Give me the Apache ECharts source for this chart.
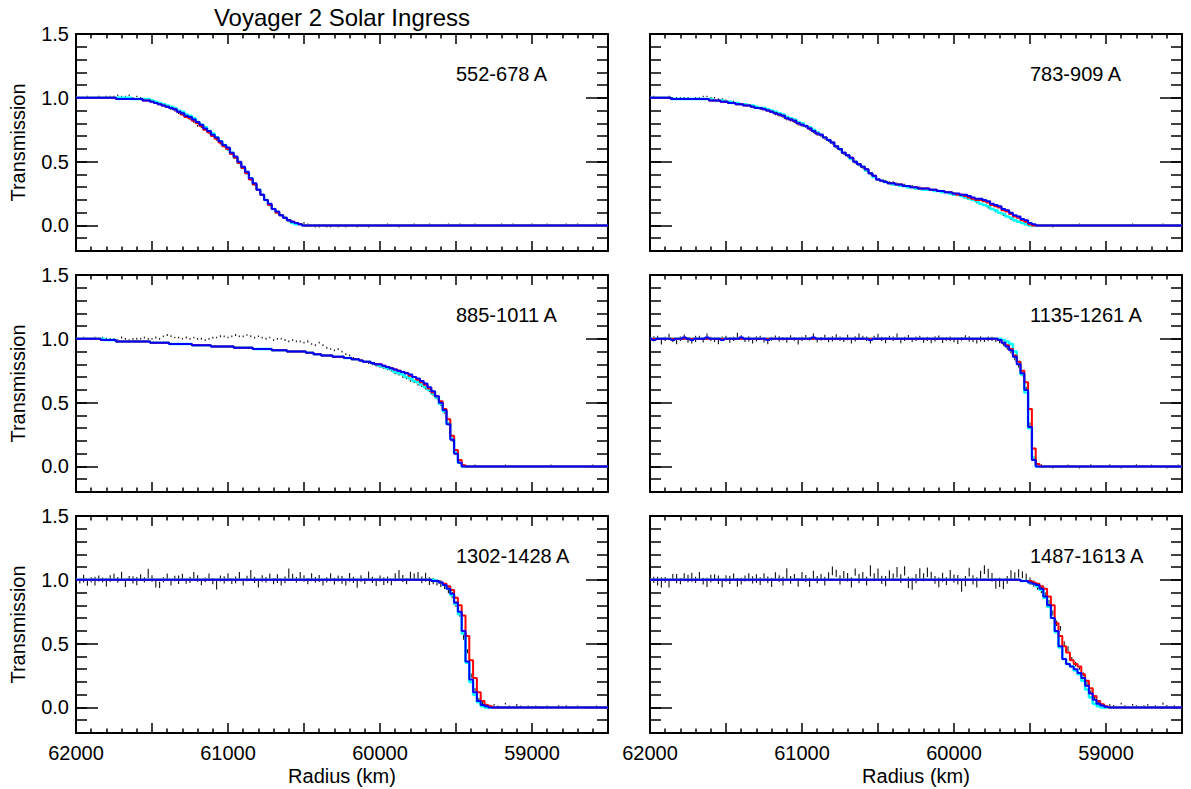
<!DOCTYPE html>
<html>
<head>
<meta charset="utf-8">
<title>Voyager 2 Solar Ingress</title>
<script src="https://cdn.jsdelivr.net/npm/echarts@6/dist/echarts.min.js"></script>
<style>
  html, body { margin: 0; padding: 0; background: #ffffff; }
  #chart { width: 1191px; height: 789px; }
</style>
</head>
<body>
<div id="chart"></div>
<script>
// Radius sample grid (km), shared by the observations and the three model curves.
const radiusKm = [
62000,61975,61950,61925,61900,61875,61850,61825,61800,61775,
61750,61725,61700,61675,61650,61625,61600,61575,61550,61525,
61500,61475,61450,61425,61400,61375,61350,61325,61300,61275,
61250,61225,61200,61175,61150,61125,61100,61075,61050,61025,
61000,60975,60950,60925,60900,60875,60850,60825,60800,60775,
60750,60725,60700,60675,60650,60625,60600,60575,60550,60525,
60500,60475,60450,60425,60400,60375,60350,60325,60300,60275,
60250,60225,60200,60175,60150,60125,60100,60075,60050,60025,
60000,59975,59950,59925,59900,59875,59850,59825,59800,59775,
59750,59725,59700,59675,59650,59625,59600,59575,59550,59525,
59500,59475,59450,59425,59400,59375,59350,59325,59300,59275,
59250,59225,59200,59175,59150,59125,59100,59075,59050,59025,
59000,58975,58950,58925,58900,58875,58850,58825,58800,58775,
58750,58725,58700,58675,58650,58625,58600,58575,58550,58525,
58500];

const bandLabels = ['552-678 A', '783-909 A', '885-1011 A', '1135-1261 A', '1302-1428 A', '1487-1613 A'];
const yMajorTicks = [0, 0.5, 1.0, 1.5];

// ---------- 552-678 A ----------
const obs552 = [
1,1,1,1.01,1,1,1.01,1,1.01,1.01,
1.01,1.02,1.01,1.01,1.02,1,1.01,1,.99,.98,
.97,.96,.95,.94,.93,.91,.90,.88,.87,.85,
.83,.81,.78,.77,.75,.72,.70,.67,.64,.62,
.59,.56,.53,.49,.45,.41,.36,.32,.28,.24,
.20,.16,.13,.10,.08,.06,.04,.03,.02,.01,
.02,.01,0,-.01,-.01,0,-.01,-.01,0,-.01,
0,-.01,0,0,-.01,0,0,-.01,0,0,
0,0,.01,0,0,-.01,0,0,0,.01,
0,0,0,.01,0,0,0,0,.01,0,
0,.01,0,0,0,.01,0,0,0,0,
0,0,.01,0,0,.01,0,0,0,0,
.01,0,0,0,.01,0,0,0,0,.01,
0,0,.01,0,0,0,0,.01,0,0,
0];
const sig552 = [
.005,.005,.006,.005,.005,.006,.005,.006,.005,.006,
.006,.007,.005,.006,.006,.005,.006,.005,.006,.005,
.005,.006,.005,.005,.006,.005,.006,.005,.005,.006,
.005,.005,.006,.005,.005,.006,.005,.005,.005,.006,
.005,.005,.005,.006,.005,.005,.005,.005,.004,.005,
.004,.004,.005,.004,.004,.004,.003,.004,.003,.003,
.003,.004,.003,.003,.004,.003,.003,.004,.003,.003,
.003,.004,.003,.003,.003,.004,.003,.003,.003,.004,
.003,.003,.004,.003,.003,.003,.004,.003,.003,.004,
.003,.003,.003,.004,.003,.003,.004,.003,.003,.003,
.004,.003,.003,.003,.004,.003,.003,.003,.004,.003,
.003,.004,.003,.003,.003,.004,.003,.003,.004,.003,
.003,.003,.004,.003,.003,.004,.003,.003,.003,.004,
.003,.003,.004,.003,.003,.003,.004,.003,.003,.004,
.003];
const cyan552 = [
1,1,1,1,1,1,1,1,1,1,
1,1,1,1,1,.99,.99,.99,.99,.99,
.98,.97,.96,.95,.94,.93,.92,.90,.89,.87,
.86,.84,.81,.79,.77,.74,.72,.69,.66,.63,
.60,.57,.53,.49,.45,.41,.37,.32,.28,.24,
.20,.16,.13,.10,.08,.06,.04,.02,.01,.01,
0,0,0,0,0,0,0,0,0,0,
0,0,0,0,0,0,0,0,0,0,
0,0,0,0,0,0,0,0,0,0,
0,0,0,0,0,0,0,0,0,0,
0,0,0,0,0,0,0,0,0,0,
0,0,0,0,0,0,0,0,0,0,
0,0,0,0,0,0,0,0,0,0,
0,0,0,0,0,0,0,0,0,0,
0];
const red552 = [
1,1,1,1,1,1,1,1,1,1,
1,.99,.99,.99,.99,.99,.99,.99,.98,.98,
.97,.96,.95,.94,.93,.92,.91,.89,.87,.85,
.84,.82,.80,.78,.75,.73,.70,.68,.65,.62,
.60,.56,.53,.49,.45,.41,.36,.32,.28,.24,
.20,.16,.13,.10,.08,.06,.04,.03,.02,.01,
0,0,0,0,0,0,0,0,0,0,
0,0,0,0,0,0,0,0,0,0,
0,0,0,0,0,0,0,0,0,0,
0,0,0,0,0,0,0,0,0,0,
0,0,0,0,0,0,0,0,0,0,
0,0,0,0,0,0,0,0,0,0,
0,0,0,0,0,0,0,0,0,0,
0,0,0,0,0,0,0,0,0,0,
0];
const blue552 = [
1,1,1,1,1,1,1,1,1,1,
1,.99,.99,.99,.99,.99,.99,.99,.98,.98,
.97,.96,.95,.94,.93,.92,.91,.89,.88,.86,
.85,.83,.81,.79,.76,.74,.71,.69,.66,.63,
.61,.57,.54,.50,.46,.42,.37,.33,.28,.24,
.20,.17,.13,.11,.08,.06,.04,.03,.02,.01,
0,0,0,0,0,0,0,0,0,0,
0,0,0,0,0,0,0,0,0,0,
0,0,0,0,0,0,0,0,0,0,
0,0,0,0,0,0,0,0,0,0,
0,0,0,0,0,0,0,0,0,0,
0,0,0,0,0,0,0,0,0,0,
0,0,0,0,0,0,0,0,0,0,
0,0,0,0,0,0,0,0,0,0,
0];

// ---------- 783-909 A ----------
const obs783 = [
1,1.01,1,1,1,1.01,1,1,1,1,
1,.99,1,1,1.01,1.01,1,1,.99,.99,
.98,.97,.97,.96,.95,.95,.94,.93,.92,.91,
.91,.90,.89,.87,.86,.85,.83,.82,.81,.79,
.78,.77,.75,.73,.71,.70,.68,.66,.64,.61,
.59,.56,.54,.52,.49,.47,.45,.43,.40,.38,
.36,.35,.35,.34,.34,.33,.32,.32,.31,.31,
.30,.30,.29,.29,.28,.28,.27,.27,.26,.25,
.24,.24,.23,.22,.21,.20,.18,.17,.16,.14,
.13,.11,.10,.08,.07,.05,.04,.03,.02,.01,
0,0,0,0,0,0,-.01,0,0,0,
0,0,0,.01,0,0,0,0,0,0,
0,0,0,0,0,0,0,.01,0,0,
0,0,0,0,0,.01,0,0,0,0,
0];
const sig783 = [
.005,.006,.005,.005,.006,.005,.006,.005,.005,.006,
.005,.006,.005,.006,.005,.005,.006,.005,.006,.005,
.006,.005,.005,.006,.005,.006,.005,.005,.006,.005,
.005,.006,.005,.005,.006,.005,.005,.006,.005,.005,
.006,.005,.005,.005,.006,.005,.005,.005,.006,.005,
.005,.005,.006,.005,.005,.005,.006,.005,.005,.005,
.005,.005,.004,.005,.005,.004,.005,.005,.004,.005,
.004,.005,.004,.004,.005,.004,.004,.005,.004,.004,
.004,.005,.004,.004,.004,.005,.004,.004,.004,.004,
.004,.004,.004,.003,.004,.003,.003,.004,.003,.003,
.003,.003,.004,.003,.003,.003,.004,.003,.003,.003,
.004,.003,.003,.003,.004,.003,.003,.003,.003,.004,
.003,.003,.004,.003,.003,.003,.004,.003,.003,.003,
.003,.004,.003,.003,.003,.004,.003,.003,.004,.003,
.003];
const cyan783 = [
1,1,1,1,1,1,.99,.99,.99,.99,
.99,.99,.99,.99,.99,.99,.99,.98,.98,.98,
.97,.97,.96,.96,.95,.95,.94,.94,.93,.92,
.92,.91,.90,.89,.88,.87,.85,.84,.83,.81,
.80,.78,.77,.75,.73,.71,.69,.67,.65,.62,
.60,.57,.55,.52,.50,.48,.46,.43,.41,.38,
.36,.35,.34,.33,.32,.32,.31,.31,.30,.30,
.29,.29,.28,.28,.28,.27,.27,.26,.26,.25,
.24,.24,.23,.22,.21,.20,.19,.17,.16,.15,
.13,.12,.10,.09,.07,.06,.04,.03,.02,.01,
0,0,0,0,0,0,0,0,0,0,
0,0,0,0,0,0,0,0,0,0,
0,0,0,0,0,0,0,0,0,0,
0,0,0,0,0,0,0,0,0,0,
0];
const red783 = [
1,1,1,1,1,1,.99,.99,.99,.99,
.99,.99,.99,.99,.99,.99,.98,.98,.98,.97,
.97,.96,.96,.95,.95,.94,.94,.93,.92,.92,
.91,.90,.89,.88,.87,.86,.84,.83,.82,.80,
.79,.78,.76,.74,.72,.71,.69,.67,.65,.62,
.60,.57,.55,.53,.50,.48,.46,.44,.41,.39,
.36,.35,.34,.33,.33,.32,.32,.31,.31,.30,
.30,.29,.29,.29,.28,.28,.27,.27,.26,.26,
.25,.24,.24,.23,.22,.21,.20,.20,.19,.18,
.16,.15,.14,.12,.11,.09,.07,.06,.04,.03,
.01,0,0,0,0,0,0,0,0,0,
0,0,0,0,0,0,0,0,0,0,
0,0,0,0,0,0,0,0,0,0,
0,0,0,0,0,0,0,0,0,0,
0];
const blue783 = [
1,1,1,1,1,1,.99,.99,.99,.99,
.99,.99,.99,.99,.99,.99,.98,.98,.98,.97,
.97,.96,.96,.95,.95,.94,.94,.93,.92,.92,
.91,.90,.89,.88,.87,.86,.84,.83,.82,.80,
.79,.78,.76,.74,.72,.71,.69,.67,.65,.62,
.60,.57,.55,.53,.50,.48,.46,.44,.41,.39,
.36,.35,.34,.33,.33,.32,.32,.31,.31,.30,
.30,.29,.29,.29,.28,.28,.27,.27,.26,.26,
.25,.25,.24,.24,.23,.22,.21,.21,.20,.19,
.17,.16,.15,.13,.12,.10,.08,.07,.05,.04,
.02,.01,0,0,0,0,0,0,0,0,
0,0,0,0,0,0,0,0,0,0,
0,0,0,0,0,0,0,0,0,0,
0,0,0,0,0,0,0,0,0,0,
0];

// ---------- 885-1011 A ----------
const obs885 = [
1,1,1.01,1,1,1.01,1,1.01,1,1,
1,.99,1.01,1,.99,1,1,1,1.01,1,
1,1.01,1,1.02,1.03,1.02,1.01,1.01,1,1.01,
1,1.01,1,1,.99,1,1.01,1.01,1.02,1.02,
1.01,1.02,1.03,1.02,1.02,1.03,1.02,1.01,1.02,1.01,
1,1.01,.99,1,1,.99,.98,.99,.98,.98,
.97,.98,.96,.95,.97,.95,.93,.92,.91,.92,
.90,.88,.87,.85,.84,.83,.82,.81,.80,.79,
.78,.77,.76,.75,.73,.72,.70,.69,.67,.66,
.64,.63,.61,.59,.56,.53,.48,.42,.33,.20,
.10,.03,.01,0,0,.01,0,0,0,0,
0,0,0,.01,0,0,0,0,0,0,
0,0,0,0,0,.01,0,0,0,0,
0,0,0,0,0,0,.01,0,0,0,
0];
const sig885 = [
.006,.007,.006,.008,.006,.007,.006,.007,.008,.006,
.007,.006,.008,.007,.006,.007,.008,.006,.007,.007,
.006,.008,.007,.006,.007,.008,.006,.007,.006,.008,
.007,.006,.007,.008,.006,.007,.007,.006,.008,.007,
.006,.007,.008,.006,.007,.006,.008,.007,.006,.007,
.008,.006,.007,.007,.006,.008,.007,.006,.007,.006,
.007,.008,.006,.007,.006,.007,.008,.006,.007,.007,
.006,.007,.006,.008,.007,.006,.007,.006,.007,.006,
.007,.006,.007,.006,.008,.007,.006,.007,.006,.007,
.006,.007,.006,.007,.006,.006,.007,.006,.006,.005,
.005,.004,.004,.003,.004,.003,.003,.004,.003,.003,
.004,.003,.003,.004,.003,.003,.003,.004,.003,.003,
.003,.004,.003,.003,.003,.004,.003,.003,.004,.003,
.003,.003,.004,.003,.003,.003,.004,.003,.003,.004,
.003];
const cyan885 = [
1,1,1,1,1,1,1,1,.99,.99,
.99,.98,.98,.98,.98,.98,.98,.98,.98,.98,
.97,.97,.97,.97,.97,.96,.96,.96,.96,.96,
.96,.95,.95,.95,.95,.95,.94,.94,.94,.94,
.94,.94,.93,.93,.93,.93,.93,.92,.92,.92,
.92,.92,.91,.91,.91,.91,.90,.90,.90,.90,
.90,.89,.89,.88,.88,.87,.87,.87,.86,.86,
.86,.85,.85,.84,.84,.83,.82,.82,.81,.80,
.79,.78,.77,.76,.74,.73,.72,.70,.69,.67,
.66,.64,.62,.60,.57,.54,.49,.43,.34,.22,
.11,.03,0,0,0,0,0,0,0,0,
0,0,0,0,0,0,0,0,0,0,
0,0,0,0,0,0,0,0,0,0,
0,0,0,0,0,0,0,0,0,0,
0];
const red885 = [
1,1,1,1,1,1,1,.99,.99,.99,
.99,.98,.98,.98,.98,.98,.98,.98,.98,.98,
.97,.97,.97,.97,.97,.96,.96,.96,.96,.96,
.96,.95,.95,.95,.95,.95,.94,.94,.94,.94,
.94,.94,.93,.93,.93,.93,.93,.92,.92,.92,
.92,.92,.91,.91,.91,.91,.90,.90,.90,.90,
.90,.89,.89,.88,.88,.87,.87,.87,.86,.86,
.86,.85,.85,.84,.84,.83,.82,.82,.81,.80,
.80,.79,.78,.77,.76,.75,.74,.73,.71,.70,
.68,.66,.64,.61,.58,.55,.51,.45,.37,.24,
.13,.05,.01,0,0,0,0,0,0,0,
0,0,0,0,0,0,0,0,0,0,
0,0,0,0,0,0,0,0,0,0,
0,0,0,0,0,0,0,0,0,0,
0];
const blue885 = [
1,1,1,1,1,1,1,.99,.99,.99,
.99,.98,.98,.98,.98,.98,.98,.98,.98,.98,
.97,.97,.97,.97,.97,.96,.96,.96,.96,.96,
.96,.95,.95,.95,.95,.95,.94,.94,.94,.94,
.94,.94,.93,.93,.93,.93,.93,.92,.92,.92,
.92,.92,.91,.91,.91,.91,.90,.90,.90,.90,
.90,.89,.89,.88,.88,.87,.87,.87,.86,.86,
.86,.85,.85,.84,.84,.83,.82,.82,.81,.80,
.80,.79,.78,.77,.76,.75,.74,.73,.72,.70,
.69,.67,.65,.62,.59,.55,.50,.44,.33,.21,
.10,.03,0,0,0,0,0,0,0,0,
0,0,0,0,0,0,0,0,0,0,
0,0,0,0,0,0,0,0,0,0,
0,0,0,0,0,0,0,0,0,0,
0];

// ---------- 1135-1261 A ----------
const obs1135 = [
.99,1,1.01,.98,1,1.02,.99,.98,1,1.02,
.99,.98,1,1.01,.99,1.02,1,.99,.98,1,
1.01,.99,1,1.02,1.01,.99,1,.98,1,1.01,
.99,.98,1,1.01,1,1,.99,1.01,1,.98,
1,1.01,1,1.02,.99,1,1.01,.99,1,1.02,
1,.99,1.01,.98,1,1.02,1.01,1,.98,1.01,
1.02,1,.99,1.01,1,1.02,.98,1,1.01,.99,
1,1.01,.99,1,.98,1,1.01,.99,1,1,
.99,.98,1,1.01,1,.99,.98,1,.99,1,
1,.99,.98,.96,.93,.90,.85,.79,.72,.61,
.33,.06,.02,.01,0,0,-.01,0,0,0,
.01,0,0,-.01,0,0,.01,0,0,0,
0,.01,0,0,-.01,0,0,0,.01,0,
0,0,.01,0,0,0,-.01,0,0,.01,
0];
const sig1135 = [
.017,.021,.014,.025,.017,.020,.015,.022,.018,.014,
.020,.017,.024,.015,.018,.021,.017,.014,.022,.018,
.015,.020,.017,.027,.018,.015,.021,.017,.020,.014,
.018,.022,.015,.017,.020,.014,.021,.018,.015,.024,
.017,.020,.014,.021,.018,.015,.022,.017,.020,.015,
.018,.014,.021,.017,.020,.022,.015,.018,.017,.014,
.020,.017,.024,.015,.018,.021,.014,.017,.020,.015,
.018,.015,.021,.017,.014,.020,.017,.022,.015,.018,
.017,.020,.015,.018,.021,.014,.017,.020,.015,.018,
.017,.015,.014,.014,.015,.014,.017,.015,.014,.015,
.014,.010,.008,.007,.006,.007,.006,.007,.006,.007,
.006,.007,.006,.006,.007,.006,.007,.006,.006,.007,
.006,.007,.006,.007,.006,.006,.007,.006,.007,.006,
.007,.006,.006,.007,.006,.007,.006,.006,.007,.006,
.006];
const cyan1135 = [
1,1,1,1,1,1,1,1,1,1,
1,1,1,1,1,1,1,1,1,1,
1,1,1,1,1,1,1,1,1,1,
1,1,1,1,1,1,1,1,1,1,
1,1,1,1,1,1,1,1,1,1,
1,1,1,1,1,1,1,1,1,1,
1,1,1,1,1,1,1,1,1,1,
1,1,1,1,1,1,1,1,1,1,
1,1,1,1,1,1,1,1,1,1,
1,1,1,.99,.98,.96,.90,.82,.72,.58,
.30,.07,0,0,0,0,0,0,0,0,
0,0,0,0,0,0,0,0,0,0,
0,0,0,0,0,0,0,0,0,0,
0,0,0,0,0,0,0,0,0,0,
0];
const red1135 = [
1,1,1,1,1,1,1,1,1,1,
1,1,1,1,1,1,1,1,1,1,
1,1,1,1,1,1,1,1,1,1,
1,1,1,1,1,1,1,1,1,1,
1,1,1,1,1,1,1,1,1,1,
1,1,1,1,1,1,1,1,1,1,
1,1,1,1,1,1,1,1,1,1,
1,1,1,1,1,1,1,1,1,1,
1,1,1,1,1,1,1,1,1,1,
1,1,.99,.97,.95,.92,.87,.82,.75,.66,
.45,.14,.02,0,0,0,0,0,0,0,
0,0,0,0,0,0,0,0,0,0,
0,0,0,0,0,0,0,0,0,0,
0,0,0,0,0,0,0,0,0,0,
0];
const blue1135 = [
1,.99,1,1,1,1,.99,1,1,1.01,
1,.99,1,1,1,1.01,1,1,1,.99,
1,1,1,1,1.01,1,1,1,1,1,
1,.99,1,1,1,1,1,1,1,1,
1,1,1,1.01,1,1,1,1,1,1,
1,1,1,1,1,1,1,1,.99,1,
1,1,1,1,1,1,1,1,1,1,
1,1,1,1,1,1,1,1,1,1,
1,1,1,1,1,1,1,1,1,1,
1,1,.99,.97,.94,.91,.86,.80,.73,.60,
.31,.05,0,0,0,0,0,0,0,0,
0,0,0,0,0,0,0,0,0,0,
0,0,0,0,0,0,0,0,0,0,
0,0,0,0,0,0,0,0,0,0,
0];

// ---------- 1302-1428 A ----------
const obs1302 = [
1,.99,1.01,.98,1,.99,1.01,1,.98,1.01,
1.02,1,1.03,.97,1.01,1,.99,1.02,1,1.05,
1.01,.97,.96,1,1.02,.98,1.01,1,1.02,.99,
1,1.03,1.01,.98,1,1.02,.99,.96,1.01,1,
1.02,.99,1,1.03,.98,1.01,1.04,1,.97,1.01,
1,1.02,.99,1.01,.98,1,1.05,1.02,1,1.03,
1.01,.99,1.02,1,1.01,.98,1,1.02,.99,1.01,
1,.98,1.02,1,.97,1.01,.99,1.03,1,.98,
1.01,.99,1,.98,1.02,1.04,1.01,.99,1.03,1.02,
1.03,1,1.02,.99,.99,.98,.97,.95,.92,.88,
.81,.73,.55,.44,.25,.14,.06,.03,.02,.01,
.02,.01,0,.03,.01,0,.02,.01,0,.01,
0,.01,0,0,.01,0,0,.01,0,.01,
0,0,.01,0,0,0,0,.01,0,0,
0];
const sig1302 = [
.022,.018,.030,.026,.020,.035,.024,.019,.032,.025,
.030,.022,.034,.026,.019,.028,.032,.024,.021,.036,
.026,.031,.024,.020,.030,.025,.022,.033,.028,.021,
.024,.032,.026,.022,.019,.030,.025,.035,.024,.028,
.031,.022,.026,.032,.025,.021,.036,.024,.030,.026,
.022,.030,.025,.034,.024,.026,.038,.028,.022,.031,
.026,.024,.032,.022,.028,.025,.021,.031,.026,.024,
.030,.025,.034,.024,.032,.026,.022,.035,.025,.028,
.024,.031,.026,.022,.032,.036,.028,.025,.034,.030,
.032,.026,.035,.030,.025,.024,.026,.022,.025,.024,
.022,.019,.020,.016,.017,.013,.014,.012,.010,.011,
.007,.006,.008,.007,.006,.007,.008,.006,.007,.006,
.007,.006,.007,.008,.006,.007,.006,.007,.006,.007,
.006,.007,.006,.007,.008,.006,.007,.006,.007,.006,
.007];
const cyan1302 = [
1,1,1,1,1,1,1,1,1,1,
1,1,1,1,1,1,1,1,1,1,
1,1,1,1,1,1,1,1,1,1,
1,1,1,1,1,1,1,1,1,1,
1,1,1,1,1,1,1,1,1,1,
1,1,1,1,1,1,1,1,1,1,
1,1,1,1,1,1,1,1,1,1,
1,1,1,1,1,1,1,1,1,1,
1,1,1,1,1,1,1,1,1,1,
1,1,1,1,1,.99,.98,.96,.93,.88,
.81,.73,.58,.35,.20,.10,.04,.01,0,0,
0,0,0,0,0,0,0,0,0,0,
0,0,0,0,0,0,0,0,0,0,
0,0,0,0,0,0,0,0,0,0,
0];
const red1302 = [
1,1,1,1,1,1,1,1,1,1,
1,1,1,1,1,1,1,1,1,1,
1,1,1,1,1,1,1,1,1,1,
1,1,1,1,1,1,1,1,1,1,
1,1,1,1,1,1,1,1,1,1,
1,1,1,1,1,1,1,1,1,1,
1,1,1,1,1,1,1,1,1,1,
1,1,1,1,1,1,1,1,1,1,
1,1,1,1,1,1,1,1,1,1,
1,1,1,1,.99,.99,.98,.97,.95,.92,
.86,.80,.72,.56,.37,.23,.12,.05,.02,.01,
0,0,0,0,0,0,0,0,0,0,
0,0,0,0,0,0,0,0,0,0,
0,0,0,0,0,0,0,0,0,0,
0];
const blue1302 = [
1,1,1,1,1,1,1,1,1,1,
1,1,1,1,1,1,1,1,1,1,
1,1,1,1,1,1,1,1,1,1,
1,1,1,1,1,1,1,1,1,1,
1,1,1,1,1,1,1,1,1,1,
1,1,1,1,1,1,1,1,1,1,
1,1,1,1,1,1,1,1,1,1,
1,1,1,1,1,1,1,1,1,1,
1,1,1,1,1,1,1,1,1,1,
1,1,1,1,.99,.99,.98,.96,.93,.89,
.82,.75,.60,.36,.22,.12,.05,.02,.01,0,
0,0,0,0,0,0,0,0,0,0,
0,0,0,0,0,0,0,0,0,0,
0,0,0,0,0,0,0,0,0,0,
0];

// ---------- 1487-1613 A ----------
const obs1487 = [
1.02,1,.99,.98,1,.97,1.02,1.01,.99,1.02,
1.01,1.02,1,1.03,.99,.98,1.01,1.02,1,.97,
1.01,1,1.02,.98,.99,1.01,1.02,1,1.01,.99,
1.02,1,.98,1.03,1.01,.99,1.05,1,1.02,.98,
1.03,1.01,.98,1.04,1,1.02,.99,1.03,1.07,1.05,
1,1.04,1.02,.98,1.06,1.01,1.03,.99,1.07,1.02,
1.05,1,.99,1.04,1.02,1.06,1.01,1.07,.98,.97,
1.01,1.05,1.02,1.06,1.03,1,.98,1.02,.99,1.04,
1.01,1,.95,.99,1.06,1,.98,1.04,1.08,1.05,
1.02,.97,.98,.96,1,1.04,1.03,1.05,1.04,1.02,
.99,.97,.95,.92,.88,.82,.74,.66,.62,.50,
.46,.38,.34,.31,.26,.19,.12,.07,.04,.02,
.01,.02,.01,0,.03,.01,0,.02,.01,0,
.01,.02,0,.01,0,.03,.01,0,.01,0,
.01];
const sig1487 = [
.028,.025,.034,.040,.022,.030,.026,.036,.024,.032,
.029,.035,.025,.031,.026,.037,.030,.024,.033,.028,
.025,.032,.029,.035,.026,.024,.031,.028,.034,.030,
.032,.026,.036,.029,.025,.034,.040,.030,.026,.035,
.031,.028,.037,.032,.029,.026,.035,.030,.034,.028,
.036,.030,.034,.040,.029,.037,.032,.035,.044,.031,
.039,.032,.040,.035,.030,.041,.034,.037,.045,.047,
.036,.040,.032,.037,.034,.030,.039,.035,.031,.036,
.032,.037,.044,.040,.034,.036,.041,.032,.035,.037,
.034,.040,.036,.032,.030,.035,.029,.032,.027,.030,
.028,.025,.027,.024,.023,.021,.020,.021,.019,.018,
.020,.016,.017,.015,.016,.013,.014,.012,.013,.011,
.009,.008,.009,.008,.007,.008,.009,.007,.008,.009,
.008,.007,.009,.008,.007,.008,.009,.007,.008,.007,
.008];
const cyan1487 = [
1,1,1,1,1,1,1,1,1,1,
1,1,1,1,1,1,1,1,1,1,
1,1,1,1,1,1,1,1,1,1,
1,1,1,1,1,1,1,1,1,1,
1,1,1,1,1,1,1,1,1,1,
1,1,1,1,1,1,1,1,1,1,
1,1,1,1,1,1,1,1,1,1,
1,1,1,1,1,1,1,1,1,1,
1,1,1,1,1,1,1,1,1,1,
1,1,1,1,1,1,1,1,.99,.99,
.98,.97,.95,.92,.86,.79,.70,.59,.47,.38,
.34,.32,.29,.26,.21,.14,.08,.03,.01,0,
0,0,0,0,0,0,0,0,0,0,
0,0,0,0,0,0,0,0,0,0,
0];
const red1487 = [
1,1,1,1,1,1,1,1,1,1,
1,1,1,1,1,1,1,1,1,1,
1,1,1,1,1,1,1,1,1,1,
1,1,1,1,1,1,1,1,1,1,
1,1,1,1,1,1,1,1,1,1,
1,1,1,1,1,1,1,1,1,1,
1,1,1,1,1,1,1,1,1,1,
1,1,1,1,1,1,1,1,1,1,
1,1,1,1,1,1,1,1,1,1,
1,1,1,1,1,1,1,1,.99,.99,
.99,.98,.97,.95,.93,.87,.80,.66,.56,.48,
.43,.37,.34,.32,.26,.21,.15,.09,.05,.025,
.01,0,0,0,0,0,0,0,0,0,
0,0,0,0,0,0,0,0,0,0,
0];
const blue1487 = [
1,1,1,1,1,1,1,1,1,1,
1,1,1,1,1,1,1,1,1,1,
1,1,1,1,1,1,1,1,1,1,
1,1,1,1,1,1,1,1,1,1,
1,1,1,1,1,1,1,1,1,1,
1,1,1,1,1,1,1,1,1,1,
1,1,1,1,1,1,1,1,1,1,
1,1,1,1,1,1,1,1,1,1,
1,1,1,1,1,1,1,1,1,1,
1,1,1,1,1,1,1,1,.99,.99,
.98,.97,.96,.93,.87,.80,.70,.60,.48,.38,
.34,.32,.30,.27,.23,.17,.11,.06,.03,.015,
.005,0,0,0,0,0,0,0,0,0,
0,0,0,0,0,0,0,0,0,0,
0];

// One entry per panel, in reading order (left-to-right, top-to-bottom).
const panels = [
  { label: bandLabels[0], obs: obs552,  sig: sig552,  cyan: cyan552,  red: red552,  blue: blue552 },
  { label: bandLabels[1], obs: obs783,  sig: sig783,  cyan: cyan783,  red: red783,  blue: blue783 },
  { label: bandLabels[2], obs: obs885,  sig: sig885,  cyan: cyan885,  red: red885,  blue: blue885 },
  { label: bandLabels[3], obs: obs1135, sig: sig1135, cyan: cyan1135, red: red1135, blue: blue1135 },
  { label: bandLabels[4], obs: obs1302, sig: sig1302, cyan: cyan1302, red: red1302, blue: blue1302 },
  { label: bandLabels[5], obs: obs1487, sig: sig1487, cyan: cyan1487, red: red1487, blue: blue1487 }
];

// ---------- layout & style ----------
const FONT = '"Liberation Sans", Arial, Helvetica, sans-serif';
const COL_X = [76, 650];
const ROW_Y = [34, 275, 516];
const GRID_W = 532, GRID_H = 217;
const X_MIN = 58500, X_MAX = 62000;
const Y_MIN = -0.2, Y_MAX = 1.5;
const LABEL_AT = [59500, 1.19];   // data position of each band label
const BLACK = '#000000';
const tickLine = { color: BLACK, width: 1.5 };
const boxLine = { color: BLACK, width: 2 };

const grid = [], xAxis = [], yAxis = [], series = [];

panels.forEach((p, g) => {
  const col = g % 2, row = Math.floor(g / 2);
  const bottomRow = row === 2, leftCol = col === 0;
  grid.push({ left: COL_X[col], top: ROW_Y[row], width: GRID_W, height: GRID_H, containLabel: false });

  const xBase = {
    gridIndex: g, type: 'value', min: X_MIN, max: X_MAX, interval: 500, inverse: true,
    axisLine: { show: true, onZero: false, lineStyle: boxLine },
    axisTick: { show: true, inside: true, length: 10, lineStyle: tickLine },
    minorTick: { show: true, splitNumber: 5, length: 4.5, lineStyle: tickLine },
    splitLine: { show: false }, minorSplitLine: { show: false }
  };
  xAxis.push(Object.assign({}, xBase, {
    position: 'bottom',
    axisLabel: {
      show: bottomRow, margin: 10, fontSize: 20, fontFamily: FONT, color: BLACK,
      formatter: v => (v % 1000 === 0 ? String(v) : '')
    },
    name: bottomRow ? 'Radius (km)' : '',
    nameLocation: 'middle', nameGap: 33,
    nameTextStyle: { fontSize: 20, fontFamily: FONT, color: BLACK }
  }));
  xAxis.push(Object.assign({}, xBase, { position: 'top', axisLabel: { show: false } }));

  const yBase = { gridIndex: g, type: 'value', min: Y_MIN, max: Y_MAX, splitLine: { show: false } };
  // left: 0.1 ticks + frame line
  yAxis.push(Object.assign({}, yBase, {
    position: 'left', interval: 0.1,
    axisLine: { show: true, onZero: false, lineStyle: boxLine },
    axisTick: { show: true, inside: true, length: 11, lineStyle: tickLine },
    axisLabel: { show: false },
    name: leftCol ? 'Transmission' : '',
    nameLocation: 'middle', nameGap: 48, nameRotate: 90,
    nameTextStyle: { fontSize: 20, fontFamily: FONT, color: BLACK }
  }));
  // left: long ticks and labels at 0.5 steps
  yAxis.push(Object.assign({}, yBase, {
    position: 'left',
    axisLine: { show: false },
    axisTick: { show: true, inside: true, length: 22, lineStyle: tickLine, customValues: yMajorTicks },
    axisLabel: {
      show: leftCol, customValues: yMajorTicks, margin: 7,
      fontSize: 20, fontFamily: FONT, color: BLACK,
      formatter: v => Number(v).toFixed(1)
    }
  }));
  // right: 0.1 ticks + frame line
  yAxis.push(Object.assign({}, yBase, {
    position: 'right', interval: 0.1,
    axisLine: { show: true, onZero: false, lineStyle: boxLine },
    axisTick: { show: true, inside: true, length: 11, lineStyle: tickLine },
    axisLabel: { show: false }
  }));
  // right: long ticks at 0.5 steps
  yAxis.push(Object.assign({}, yBase, {
    position: 'right',
    axisLine: { show: false },
    axisTick: { show: true, inside: true, length: 22, lineStyle: tickLine, customValues: yMajorTicks },
    axisLabel: { show: false }
  }));

  const xi = 2 * g, yi = 4 * g;

  // observations with their uncertainty bars
  series.push({
    type: 'custom', xAxisIndex: xi, yAxisIndex: yi, silent: true, z: 2,
    data: radiusKm.map((r, i) => [r, p.obs[i], p.sig[i]]),
    renderItem: (params, api) => {
      const r = api.value(0), v = api.value(1), s = api.value(2);
      const hi = api.coord([r, v + s]);
      const lo = api.coord([r, v - s]);
      let y1 = hi[1], y2 = lo[1];
      if (y2 - y1 < 1.6) { const m = (y1 + y2) / 2; y1 = m - 0.8; y2 = m + 0.8; }
      return {
        type: 'line',
        shape: { x1: hi[0], y1: y1, x2: hi[0], y2: y2 },
        style: { stroke: '#111111', lineWidth: 1.1 }
      };
    }
  });

  // model curves, drawn as histogram steps
  const curve = (values, color, width, z) => ({
    type: 'line', xAxisIndex: xi, yAxisIndex: yi, step: 'middle',
    data: radiusKm.map((r, i) => [r, values[i]]),
    showSymbol: false, symbol: 'none', silent: true, z: z,
    lineStyle: { color: color, width: width }
  });
  series.push(curve(p.cyan, '#00ffff', 2.5, 3));
  series.push(curve(p.red, '#ff0000', 2, 4));
  series.push(curve(p.blue, '#0000ff', 2, 5));
});

const chart = echarts.init(document.getElementById('chart'), null, { renderer: 'svg' });
chart.setOption({
  backgroundColor: '#ffffff',
  animation: false,
  grid: grid,
  xAxis: xAxis,
  yAxis: yAxis,
  series: series
});

// Title and band labels, placed from the axes' own scales.
const graphic = [];
const firstPx = chart.convertToPixel({ xAxisIndex: 0, yAxisIndex: 0 }, [X_MAX, Y_MAX]);
const lastPx = chart.convertToPixel({ xAxisIndex: 0, yAxisIndex: 0 }, [X_MIN, Y_MAX]);
graphic.push({
  type: 'text', x: (firstPx[0] + lastPx[0]) / 2, y: 17,
  style: { text: 'Voyager 2 Solar Ingress', fontSize: 24, fontFamily: FONT, fill: BLACK, align: 'center', verticalAlign: 'middle' }
});
panels.forEach((p, g) => {
  const pt = chart.convertToPixel({ xAxisIndex: 2 * g, yAxisIndex: 4 * g }, LABEL_AT);
  graphic.push({
    type: 'text', x: pt[0], y: pt[1],
    style: { text: p.label, fontSize: 20, fontFamily: FONT, fill: BLACK, align: 'left', verticalAlign: 'middle' }
  });
});
chart.setOption({ graphic: graphic });
</script>
</body>
</html>
